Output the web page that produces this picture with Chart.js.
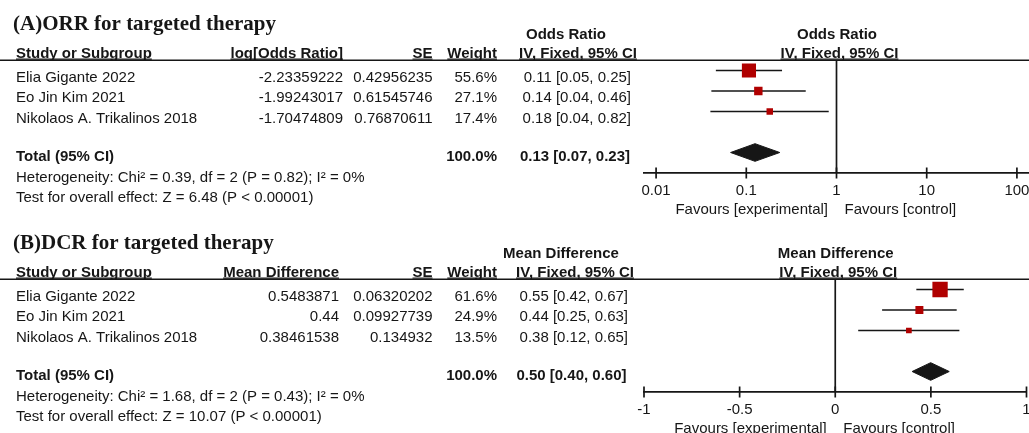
<!DOCTYPE html>
<html>
<head>
<meta charset="utf-8">
<script src="https://cdn.jsdelivr.net/npm/chart.js"></script>
<style>
  html, body { margin: 0; padding: 0; background: #fff; overflow: hidden; }
  .panel { position: absolute; left: 0; width: 1029px; }
  #wrapA { top: 0; height: 219px; }
  #wrapB { top: 219px; height: 214px; }
</style>
</head>
<body>
<div class="panel" id="wrapA"><canvas id="chartA" width="1029" height="219"></canvas></div>
<div class="panel" id="wrapB"><canvas id="chartB" width="1029" height="214"></canvas></div>
<script>
// shared rows
const studies = ['Elia Gigante 2022', 'Eo Jin Kim 2021', 'Nikolaos A. Trikalinos 2018'];
const rows = [1, 2, 3];
const totalRow = 5;

// (A) ORR - odds ratio, log scale
const logOrText = ['-2.23359222', '-1.99243017', '-1.70474809'];
const seTextA = ['0.42956235', '0.61545746', '0.76870611'];
const weightA = [55.6, 27.1, 17.4];
const orEst = [0.107, 0.136, 0.182];
const orLow = [0.046, 0.041, 0.040];
const orHigh = [0.249, 0.456, 0.820];
const ciTextA = ['0.11 [0.05, 0.25]', '0.14 [0.04, 0.46]', '0.18 [0.04, 0.82]'];
const orTotal = [0.125, 0.067, 0.235]; // estimate, low, high
const totalTextA = '0.13 [0.07, 0.23]';
const ticksA = [0.01, 0.1, 1, 10, 100];
const tickLabelsA = ['0.01', '0.1', '1', '10', '100'];

// (B) DCR - mean difference, linear scale
const mdText = ['0.5483871', '0.44', '0.38461538'];
const seTextB = ['0.06320202', '0.09927739', '0.134932'];
const weightB = [61.6, 24.9, 13.5];
const mdEst = [0.548, 0.44, 0.385];
const mdLow = [0.424, 0.245, 0.120];
const mdHigh = [0.672, 0.635, 0.649];
const ciTextB = ['0.55 [0.42, 0.67]', '0.44 [0.25, 0.63]', '0.38 [0.12, 0.65]'];
const mdTotal = [0.499, 0.402, 0.596];
const totalTextB = '0.50 [0.40, 0.60]';
const ticksB = [-1, -0.5, 0, 0.5, 1];
const tickLabelsB = ['-1', '-0.5', '0', '0.5', '1'];

const ink = '#161616';
const red = '#b00000';
const sans = '"Liberation Sans", Arial, sans-serif';
const serif = '"Liberation Serif", "Times New Roman", serif';

const panels = {
  A: {
    canvas: 'chartA', height: 219, padRight: 0,
    title: '(A)ORR for targeted therapy',
    effect: 'Odds Ratio', valueHead: 'log[Odds Ratio]', valueRight: 343,
    headCenter: 566, ivCenter: 578, ciRight: 631, totalRight: 630,
    values: logOrText, se: seTextA, weight: weightA, ciText: ciTextA, totalText: totalTextA,
    est: orEst, low: orLow, high: orHigh, total: orTotal,
    het: 'Heterogeneity: Chi\u00b2 = 0.39, df = 2 (P = 0.82); I\u00b2 = 0%',
    test: 'Test for overall effect: Z = 6.48 (P < 0.00001)',
    xType: 'logarithmic', xMin: Math.pow(10, -2.134), xMax: Math.pow(10, 2.134), nullValue: 1,
    ticks: ticksA, tickLabels: tickLabelsA
  },
  B: {
    canvas: 'chartB', height: 214, padRight: 2.5,
    title: '(B)DCR for targeted therapy',
    effect: 'Mean Difference', valueHead: 'Mean Difference', valueRight: 339,
    headCenter: 561, ivCenter: 575, ciRight: 628, totalRight: 626.5,
    values: mdText, se: seTextB, weight: weightB, ciText: ciTextB, totalText: totalTextB,
    est: mdEst, low: mdLow, high: mdHigh, total: mdTotal,
    het: 'Heterogeneity: Chi\u00b2 = 1.68, df = 2 (P = 0.43); I\u00b2 = 0%',
    test: 'Test for overall effect: Z = 10.07 (P < 0.00001)',
    xType: 'linear', xMin: -1, xMax: 1, nullValue: 0,
    ticks: ticksB, tickLabels: tickLabelsB
  }
};

// text, rules and crossing tick marks drawn around the plot
function decor(p) {
  return {
    id: 'decor',
    afterDraw(chart) {
      const ctx = chart.ctx;
      const xs = chart.scales.x, ys = chart.scales.y, area = chart.chartArea;
      const nullX = xs.getPixelForValue(p.nullValue);

      function line(x1, y1, x2, y2, w) {
        ctx.lineWidth = w;
        ctx.beginPath(); ctx.moveTo(x1, y1); ctx.lineTo(x2, y2); ctx.stroke();
      }
      function txt(s, x, y, align, bold, under) {
        ctx.font = (bold ? 'bold ' : '') + '15px ' + sans;
        ctx.textAlign = align;
        ctx.fillText(s, x, y);
        if (under) {
          const w = ctx.measureText(s).width;
          const x0 = align === 'right' ? x - w : align === 'center' ? x - w / 2 : x;
          line(x0, y + 1.6, x0 + w, y + 1.6, 1.1);
        }
      }

      ctx.save();
      ctx.strokeStyle = ink;
      ctx.fillStyle = ink;
      ctx.textBaseline = 'alphabetic';

      line(0, area.top, chart.width, area.top, 1.6);
      p.ticks.forEach(v => {
        const x = xs.getPixelForValue(v);
        line(x, area.bottom - 5.5, x, area.bottom + 5.5, 1.7);
      });

      ctx.font = 'bold 21px ' + serif;
      ctx.textAlign = 'left';
      ctx.fillText(p.title, 13, 30);

      const headY = area.top - 21.75;
      const colY = area.top - 2.75;
      txt(p.effect, p.headCenter, headY, 'center', true);
      txt(p.effect, nullX + 0.5, headY, 'center', true);
      txt('Study or Subgroup', 16, colY, 'left', true, true);
      txt(p.valueHead, p.valueRight, colY, 'right', true, true);
      txt('SE', 432.5, colY, 'right', true, true);
      txt('Weight', 497, colY, 'right', true, true);
      txt('IV, Fixed, 95% CI', p.ivCenter, colY, 'center', true, true);
      txt('IV, Fixed, 95% CI', nullX + 3, colY, 'center', true, true);

      studies.forEach((s, i) => {
        const y = ys.getPixelForValue(rows[i]) + 11.2;
        txt(s, 16, y, 'left');
        txt(p.values[i], p.valueRight, y, 'right');
        txt(p.se[i], 432.5, y, 'right');
        txt(p.weight[i].toFixed(1) + '%', 497, y, 'right');
        txt(p.ciText[i], p.ciRight, y, 'right');
      });

      const ty = ys.getPixelForValue(totalRow) + 8.5;
      txt('Total (95% CI)', 16, ty, 'left', true);
      txt('100.0%', 497, ty, 'right', true);
      txt(p.totalText, p.totalRight, ty, 'right', true);
      txt(p.het, 16, area.top + 122.2, 'left');
      txt(p.test, 16, area.top + 142.2, 'left');

      txt('Favours [experimental]', nullX - 8.5, area.bottom + 41.4, 'right');
      txt('Favours [control]', nullX + 8, area.bottom + 41.4, 'left');
      ctx.restore();
    }
  };
}

function makePanel(p) {
  const datasets = [];
  // squares sized by weight (drawn on top)
  datasets.push({
    data: p.est.map((v, i) => ({ x: v, y: rows[i] })),
    showLine: false,
    pointStyle: 'rect',
    pointRadius: p.weight.map(w => (3 + 0.2 * w) / Math.SQRT2),
    pointBackgroundColor: red,
    pointBorderWidth: 0
  });
  // confidence intervals
  p.est.forEach((v, i) => {
    datasets.push({
      data: [{ x: p.low[i], y: rows[i] }, { x: p.high[i], y: rows[i] }],
      borderColor: ink, borderWidth: 1.7, pointRadius: 0
    });
  });
  // pooled diamond
  const [te, tl, th] = p.total;
  datasets.push({
    data: [
      { x: tl, y: totalRow }, { x: te, y: totalRow - 0.43 },
      { x: th, y: totalRow }, { x: te, y: totalRow + 0.43 }, { x: tl, y: totalRow }
    ],
    fill: 'shape', backgroundColor: ink, borderColor: ink, borderWidth: 1, pointRadius: 0
  });
  // line of no effect
  datasets.push({
    data: [{ x: p.nullValue, y: 0.5 }, { x: p.nullValue, y: 6 }],
    borderColor: ink, borderWidth: 1.7, pointRadius: 0
  });

  new Chart(document.getElementById(p.canvas), {
    type: 'line',
    data: { datasets },
    options: {
      responsive: false,
      animation: false,
      events: [],
      layout: {
        autoPadding: false,
        padding: { left: 644, right: p.padRight, top: 60.25, bottom: p.height - 173 - 40 }
      },
      plugins: { legend: { display: false }, tooltip: { enabled: false } },
      scales: {
        x: {
          type: p.xType, min: p.xMin, max: p.xMax, position: 'bottom',
          grid: { display: false, drawTicks: false },
          border: { display: true, color: ink, width: 1.7 },
          afterBuildTicks: s => { s.ticks = p.ticks.map(v => ({ value: v })); },
          afterFit: s => { s.height = 40; s.paddingLeft = 0; s.paddingRight = 0; },
          ticks: {
            padding: 8.5, color: ink, maxRotation: 0, autoSkip: false,
            font: { family: sans, size: 15 },
            callback: (v, i) => p.tickLabels[i]
          }
        },
        y: { type: 'linear', reverse: true, min: 0.5, max: 6, display: false }
      }
    },
    plugins: [decor(p)]
  });
}

makePanel(panels.A);
makePanel(panels.B);
</script>
</body>
</html>
